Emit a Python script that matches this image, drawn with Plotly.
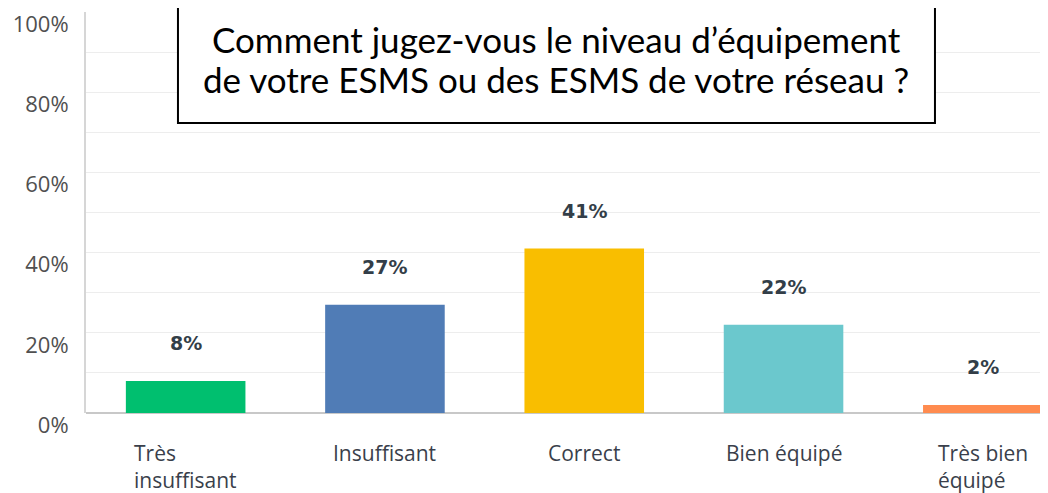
import plotly.graph_objects as go

categories = ["Très<br>insuffisant", "Insuffisant", "Correct", "Bien équipé", "Très bien<br>équipé"]
values = [8, 27, 41, 22, 2]
colors = ["#00BF6F", "#507CB6", "#F9BE00", "#6BC8CD", "#FF8B4F"]
y_ticks = [0, 20, 40, 60, 80, 100]
y_tick_labels = ["0%", "20%", "40%", "60%", "80%", "100%"]
title_lines = ["Comment jugez-vous le niveau d’équipement",
               "de votre ESMS ou des ESMS de votre réseau ?"]

x_idx = list(range(len(categories)))

fig = go.Figure()
fig.add_trace(go.Bar(
    x=x_idx, y=values, marker=dict(color=colors, line=dict(width=0)),
    width=0.6, hoverinfo="skip"
))

annotations = []
for i, v in zip(x_idx, values):
    annotations.append(dict(
        x=i, y=v, xref="x", yref="y", text=f"<b>{v}%</b>", showarrow=False,
        yshift=38, font=dict(family="DejaVu Sans", size=19, color="#333E48")
    ))
for i, c in zip(x_idx, categories):
    annotations.append(dict(
        x=i, y=0, xref="x", yref="y", text=c, showarrow=False,
        yanchor="top", xanchor="center", align="left", yshift=-24,
        font=dict(family="Open Sans", size=21, color="#3A3F4B")
    ))
for line, ypos in zip(title_lines, [0.9327, 0.8329]):
    annotations.append(dict(
        x=0.489, y=ypos, xref="paper", yref="paper", text=line,
        showarrow=False, xanchor="center", yanchor="middle", align="center",
        font=dict(family="Lato", size=35, color="#000000")
    ))

# the page body has an 8px default margin; figure is sized to end at the window edge
fig.update_layout(
    width=1040, height=485,
    margin=dict(l=78, r=0, t=4, b=80),
    paper_bgcolor="white", plot_bgcolor="white",
    showlegend=False,
    annotations=annotations,
    shapes=[dict(
        type="rect", xref="paper", yref="paper",
        x0=0.0956, x1=0.8825, y0=0.7232, y1=1.04,
        line=dict(color="black", width=2), fillcolor="white", layer="above"
    )],
    xaxis=dict(
        range=[-0.5, 4.327], showticklabels=False, showgrid=False,
        zeroline=False, showline=False, fixedrange=True, automargin=False
    ),
    yaxis=dict(
        range=[0, 100], tickvals=y_ticks, ticktext=y_tick_labels,
        showgrid=True, gridcolor="#EDEDED", gridwidth=1,
        zeroline=True, zerolinecolor="#C8C8C8", zerolinewidth=2,
        showline=True, linecolor="#D6D6D6", linewidth=2,
        ticks="", ticklabelstandoff=11, ticklabelshift=12,
        ticklabeloverflow="allow",
        tickfont=dict(family="Open Sans", size=22, color="#505050"),
        fixedrange=True, automargin=False,
        minor=dict(tickvals=[10, 30, 50, 70, 90], showgrid=True, gridcolor="#EDEDED", gridwidth=1)
    ),
)

fig.write_html("out.html")
